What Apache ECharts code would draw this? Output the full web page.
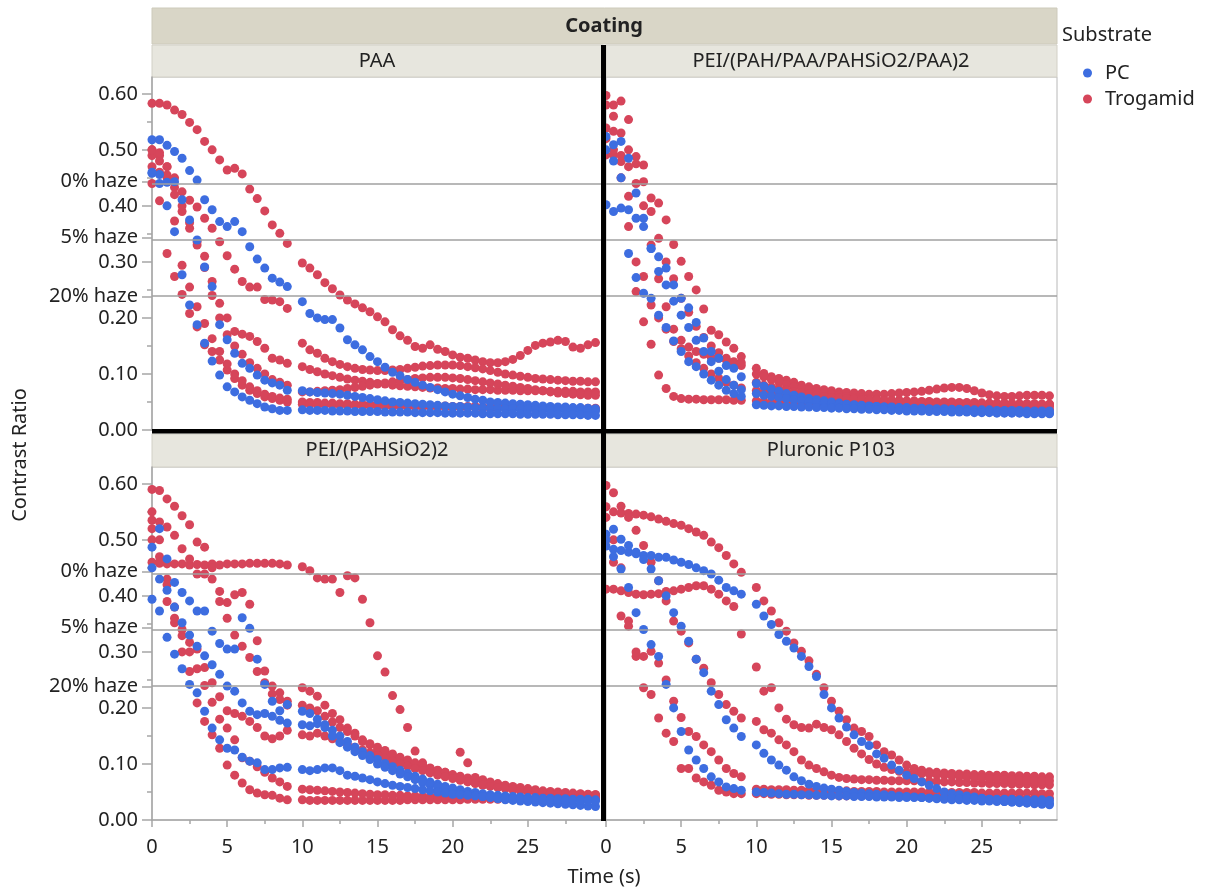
<!DOCTYPE html>
<html>
<head>
<meta charset="utf-8">
<title>Contrast Ratio by Coating</title>
<script src="https://cdn.jsdelivr.net/npm/echarts@6/dist/echarts.min.js"></script>
<style>
  html, body { margin: 0; padding: 0; background: #fff; }
  #chart { width: 1205px; height: 891px; }
</style>
</head>
<body>
<div id="chart"></div>
<script>
// time stamps (s) shared by every run, there is a pause between 9 and 10 s
const times = [0, 0.5, 1, 1.5, 2, 2.5, 3, 3.5, 4, 4.5, 5, 5.5, 6, 6.5, 7, 7.5, 8, 8.5, 9,
  10, 10.5, 11, 11.5, 12, 12.5, 13, 13.5, 14, 14.5, 15, 15.5, 16, 16.5, 17, 17.5, 18, 18.5, 19, 19.5,
  20, 20.5, 21, 21.5, 22, 22.5, 23, 23.5, 24, 24.5, 25, 25.5, 26, 26.5, 27, 27.5, 28, 28.5, 29, 29.5];

// ---- PAA ----
const paaPC1 = [0.518, 0.518, 0.508, 0.497, 0.485, 0.463, 0.446, 0.411, 0.393, 0.372, 0.363, 0.372, 0.354, 0.327, 0.305, 0.289, 0.271, 0.264, 0.256,
  0.229, 0.208, 0.2, 0.197, 0.197, 0.182, 0.161, 0.152, 0.143, 0.131,
  0.122, 0.112, 0.103, 0.097, 0.09, 0.085, 0.08, 0.076, 0.072, 0.068,
  0.064, 0.061, 0.058, 0.055, 0.053, 0.05, 0.049, 0.048, 0.047, 0.046,
  0.045, 0.044, 0.043, 0.042, 0.041, 0.041, 0.04, 0.04, 0.039, 0.038];
const paaPC2 = [0.458, 0.456, 0.442, 0.443, 0.411, 0.375, 0.339, 0.291, 0.256, 0.188, 0.161, 0.137, 0.119, 0.11, 0.098, 0.089, 0.084, 0.08, 0.071,
  0.07, 0.068, 0.067, 0.066, 0.065, 0.064, 0.062, 0.06, 0.058, 0.056,
  0.054, 0.052, 0.05, 0.049, 0.048, 0.047, 0.046, 0.045, 0.044, 0.043,
  0.042, 0.042, 0.041, 0.04, 0.04, 0.039, 0.039, 0.038, 0.038, 0.037,
  0.037, 0.036, 0.036, 0.036, 0.035, 0.035, 0.035, 0.034, 0.034, 0.034];
const paaPC3 = [0.46, 0.44, 0.4, 0.354, 0.277, 0.223, 0.188, 0.155, 0.123, 0.098, 0.077, 0.068, 0.059, 0.053, 0.047, 0.041, 0.038, 0.035, 0.035,
  0.036, 0.035, 0.035, 0.035, 0.034, 0.034, 0.034, 0.033, 0.033, 0.033,
  0.033, 0.032, 0.032, 0.032, 0.032, 0.031, 0.031, 0.031, 0.031, 0.03,
  0.03, 0.03, 0.03, 0.03, 0.029, 0.029, 0.029, 0.029, 0.029, 0.028,
  0.028, 0.028, 0.028, 0.028, 0.027, 0.027, 0.027, 0.027, 0.026, 0.026];
const paaTR1 = [0.583, 0.583, 0.58, 0.571, 0.563, 0.549, 0.536, 0.515, 0.5, 0.482, 0.464, 0.467, 0.457, 0.43, 0.413, 0.391, 0.366, 0.351, 0.333,
  0.298, 0.289, 0.277, 0.263, 0.252, 0.241, 0.232, 0.225, 0.218, 0.211,
  0.202, 0.193, 0.179, 0.168, 0.16, 0.149, 0.146, 0.152, 0.144, 0.14,
  0.134, 0.13, 0.128, 0.125, 0.122, 0.12, 0.12, 0.122, 0.126, 0.133,
  0.142, 0.151, 0.155, 0.157, 0.16, 0.158, 0.148, 0.146, 0.152, 0.156];
const paaTR2 = [0.49, 0.48, 0.47, 0.433, 0.425, 0.41, 0.398, 0.378, 0.36, 0.336, 0.311, 0.287, 0.265, 0.255, 0.255, 0.233, 0.232, 0.229, 0.217,
  0.155, 0.143, 0.137, 0.128, 0.122, 0.117, 0.113, 0.11, 0.108, 0.107,
  0.106, 0.106, 0.107, 0.108, 0.11, 0.112, 0.114, 0.115, 0.116, 0.116,
  0.116, 0.115, 0.113, 0.111, 0.109, 0.106, 0.103, 0.1, 0.098, 0.096,
  0.094, 0.092, 0.091, 0.09, 0.089, 0.088, 0.087, 0.087, 0.086, 0.086];
const paaTR3 = [0.47, 0.46, 0.45, 0.42, 0.39, 0.36, 0.336, 0.31, 0.265, 0.226, 0.2, 0.176, 0.171, 0.167, 0.158, 0.146, 0.128, 0.125, 0.119,
  0.113, 0.108, 0.104, 0.1, 0.097, 0.094, 0.091, 0.089, 0.087, 0.085,
  0.083, 0.082, 0.08, 0.079, 0.078, 0.077, 0.076, 0.075, 0.075, 0.074,
  0.074, 0.073, 0.073, 0.072, 0.072, 0.072, 0.071, 0.071, 0.071, 0.07,
  0.07, 0.07, 0.07, 0.069, 0.069, 0.069, 0.069, 0.068, 0.068, 0.068];
const paaTR4 = [0.44, 0.409, 0.315, 0.274, 0.242, 0.208, 0.184, 0.152, 0.14, 0.125, 0.107, 0.092, 0.08, 0.071, 0.065, 0.059, 0.056, 0.053, 0.05,
  0.05, 0.049, 0.049, 0.048, 0.048, 0.047, 0.047, 0.046, 0.046, 0.046,
  0.045, 0.045, 0.045, 0.044, 0.044, 0.044, 0.043, 0.043, 0.043, 0.043,
  0.042, 0.042, 0.042, 0.042, 0.041, 0.041, 0.041, 0.041, 0.041, 0.04,
  0.04, 0.04, 0.04, 0.04, 0.04, 0.039, 0.039, 0.039, 0.039, 0.039];
const paaTR5 = [0.5, 0.49, 0.455, 0.373, 0.294, 0.255, 0.22, 0.19, 0.163, 0.14, 0.118, 0.1, 0.088, 0.077, 0.07, 0.064, 0.06, 0.057, 0.055,
  0.046, 0.046, 0.045, 0.045, 0.045, 0.044, 0.044, 0.044, 0.043, 0.043,
  0.043, 0.042, 0.042, 0.042, 0.042, 0.041, 0.041, 0.041, 0.041, 0.04,
  0.04, 0.04, 0.04, 0.04, 0.039, 0.039, 0.039, 0.039, 0.039, 0.039,
  0.038, 0.038, 0.038, 0.038, 0.038, 0.038, 0.037, 0.037, 0.037, 0.037];
const paaTR6 = [0.5, 0.495, 0.47, 0.45, 0.4, 0.37, 0.33, 0.29, 0.24, 0.2, 0.17, 0.15, 0.135, 0.12, 0.11, 0.1, 0.09, 0.085, 0.08,
  0.068, 0.068, 0.069, 0.07, 0.071, 0.072, 0.074, 0.076, 0.078, 0.08,
  0.082, 0.084, 0.086, 0.088, 0.09, 0.092, 0.093, 0.094, 0.094, 0.094,
  0.093, 0.092, 0.09, 0.088, 0.086, 0.084, 0.082, 0.08, 0.078, 0.076,
  0.074, 0.072, 0.07, 0.068, 0.066, 0.065, 0.064, 0.063, 0.062, 0.062];

// ---- PEI/(PAH/PAA/PAHSiO2/PAA)2 ----
const peiPC1 = [0.524, 0.509, 0.515, 0.485, 0.423, 0.378, 0.324, 0.309, 0.289, 0.259, 0.235, 0.218, 0.192, 0.164, 0.14, 0.128, 0.115, 0.11, 0.095,
  0.083, 0.078, 0.073, 0.069, 0.065, 0.062, 0.059, 0.056, 0.054, 0.052,
  0.05, 0.048, 0.046, 0.045, 0.044, 0.043, 0.042, 0.041, 0.04, 0.039,
  0.038, 0.037, 0.036, 0.036, 0.035, 0.035, 0.034, 0.034, 0.033, 0.033,
  0.032, 0.032, 0.032, 0.031, 0.031, 0.031, 0.03, 0.03, 0.03, 0.03];
const peiPC2 = [0.402, 0.39, 0.396, 0.393, 0.378, 0.363, 0.324, 0.283, 0.259, 0.23, 0.205, 0.183, 0.16, 0.14, 0.122, 0.105, 0.09, 0.08, 0.072,
  0.065, 0.062, 0.06, 0.058, 0.056, 0.054, 0.052, 0.05, 0.049, 0.048,
  0.047, 0.046, 0.045, 0.044, 0.043, 0.042, 0.042, 0.041, 0.041, 0.04,
  0.04, 0.039, 0.039, 0.038, 0.038, 0.038, 0.037, 0.037, 0.037, 0.036,
  0.036, 0.036, 0.035, 0.035, 0.035, 0.035, 0.034, 0.034, 0.034, 0.034];
const peiPC3 = [0.5, 0.48, 0.45, 0.315, 0.272, 0.244, 0.235, 0.205, 0.183, 0.159, 0.14, 0.122, 0.113, 0.1, 0.089, 0.08, 0.071, 0.065, 0.06,
  0.045, 0.044, 0.043, 0.043, 0.042, 0.042, 0.041, 0.041, 0.04, 0.04,
  0.039, 0.039, 0.038, 0.038, 0.037, 0.037, 0.036, 0.036, 0.035, 0.035,
  0.034, 0.034, 0.034, 0.033, 0.033, 0.033, 0.032, 0.032, 0.032, 0.031,
  0.031, 0.031, 0.03, 0.03, 0.03, 0.03, 0.029, 0.029, 0.029, 0.029];
const peiTR1 = [0.597, 0.58, 0.587, 0.554, 0.488, 0.473, 0.414, 0.405, 0.375, 0.331, 0.301, 0.274, 0.25, 0.216, 0.178, 0.17, 0.157, 0.146, 0.131,
  0.11, 0.101, 0.095, 0.092, 0.089, 0.085, 0.08, 0.077, 0.074, 0.072,
  0.07, 0.068, 0.067, 0.066, 0.065, 0.064, 0.064, 0.064, 0.065, 0.066,
  0.067, 0.068, 0.069, 0.071, 0.073, 0.075, 0.076, 0.076, 0.074, 0.07,
  0.066, 0.063, 0.061, 0.06, 0.06, 0.061, 0.062, 0.062, 0.062, 0.061];
const peiTR2 = [0.58, 0.56, 0.53, 0.5, 0.475, 0.443, 0.39, 0.342, 0.3, 0.27, 0.235, 0.21, 0.185, 0.165, 0.15, 0.138, 0.128, 0.12, 0.115,
  0.1, 0.095, 0.09, 0.085, 0.081, 0.077, 0.074, 0.071, 0.068, 0.066,
  0.064, 0.062, 0.06, 0.058, 0.057, 0.056, 0.055, 0.054, 0.053, 0.053,
  0.052, 0.052, 0.051, 0.051, 0.05, 0.05, 0.05, 0.049, 0.049, 0.049,
  0.048, 0.048, 0.048, 0.048, 0.047, 0.047, 0.047, 0.047, 0.046, 0.046];
const peiTR3 = [0.539, 0.533, 0.479, 0.417, 0.3, 0.274, 0.223, 0.2, 0.18, 0.158, 0.145, 0.132, 0.12, 0.11, 0.1, 0.092, 0.085, 0.08, 0.075,
  0.07, 0.068, 0.066, 0.064, 0.062, 0.06, 0.058, 0.057, 0.056, 0.055,
  0.054, 0.053, 0.052, 0.051, 0.05, 0.05, 0.049, 0.049, 0.048, 0.048,
  0.047, 0.047, 0.046, 0.046, 0.046, 0.045, 0.045, 0.045, 0.044, 0.044,
  0.044, 0.044, 0.043, 0.043, 0.043, 0.043, 0.042, 0.042, 0.042, 0.042];
const peiTR4 = [0.491, 0.491, 0.45, 0.363, 0.247, 0.193, 0.153, 0.098, 0.074, 0.06, 0.056, 0.055, 0.055, 0.054, 0.054, 0.054, 0.054, 0.053, 0.053,
  0.052, 0.051, 0.05, 0.05, 0.049, 0.049, 0.048, 0.048, 0.047, 0.047,
  0.046, 0.046, 0.045, 0.045, 0.044, 0.044, 0.043, 0.043, 0.042, 0.042,
  0.042, 0.041, 0.041, 0.041, 0.04, 0.04, 0.04, 0.04, 0.039, 0.039,
  0.039, 0.039, 0.038, 0.038, 0.038, 0.038, 0.038, 0.037, 0.037, 0.037];
const peiTR5 = [0.52, 0.5, 0.49, 0.47, 0.44, 0.4, 0.33, 0.27, 0.22, 0.18, 0.16, 0.148, 0.14, 0.135, 0.13, 0.128, 0.125, 0.122, 0.12,
  0.085, 0.08, 0.077, 0.074, 0.071, 0.068, 0.066, 0.064, 0.062, 0.06,
  0.058, 0.057, 0.056, 0.055, 0.054, 0.053, 0.053, 0.052, 0.052, 0.051,
  0.051, 0.05, 0.05, 0.05, 0.049, 0.049, 0.049, 0.048, 0.048, 0.048,
  0.048, 0.047, 0.047, 0.047, 0.047, 0.046, 0.046, 0.046, 0.046, 0.046];

// ---- PEI/(PAHSiO2)2 ----
const silPC1 = [0.487, 0.52, 0.466, 0.424, 0.406, 0.391, 0.373, 0.373, 0.337, 0.315, 0.305, 0.305, 0.361, 0.342, 0.287, 0.242, 0.212, 0.195, 0.206,
  0.194, 0.19, 0.18, 0.17, 0.16, 0.15, 0.14, 0.13, 0.122, 0.115,
  0.108, 0.101, 0.095, 0.089, 0.083, 0.078, 0.073, 0.068, 0.064, 0.06,
  0.057, 0.054, 0.051, 0.049, 0.047, 0.045, 0.044, 0.043, 0.042, 0.041,
  0.04, 0.04, 0.039, 0.039, 0.038, 0.038, 0.037, 0.037, 0.037, 0.036];
const silPC2 = [0.45, 0.43, 0.41, 0.38, 0.352, 0.33, 0.31, 0.293, 0.277, 0.26, 0.239, 0.23, 0.209, 0.194, 0.188, 0.19, 0.185, 0.178, 0.173,
  0.17, 0.168, 0.172, 0.165, 0.15, 0.138, 0.13, 0.122, 0.115, 0.108,
  0.1, 0.094, 0.088, 0.082, 0.077, 0.072, 0.067, 0.063, 0.059, 0.055,
  0.052, 0.049, 0.046, 0.044, 0.042, 0.04, 0.038, 0.036, 0.035, 0.034,
  0.033, 0.032, 0.031, 0.03, 0.029, 0.028, 0.027, 0.026, 0.025, 0.024];
const silPC3 = [0.394, 0.373, 0.326, 0.296, 0.27, 0.242, 0.227, 0.194, 0.164, 0.143, 0.128, 0.125, 0.112, 0.105, 0.102, 0.09, 0.09, 0.093, 0.094,
  0.09, 0.088, 0.09, 0.093, 0.093, 0.088, 0.08, 0.078, 0.075, 0.072,
  0.068, 0.065, 0.062, 0.06, 0.058, 0.056, 0.054, 0.052, 0.05, 0.048,
  0.046, 0.045, 0.044, 0.043, 0.042, 0.041, 0.04, 0.039, 0.038, 0.038,
  0.037, 0.037, 0.036, 0.036, 0.036, 0.035, 0.035, 0.035, 0.034, 0.034];
const silTR1 = [0.46, 0.458, 0.457, 0.457, 0.457, 0.455, 0.456, 0.455, 0.457, 0.455, 0.457, 0.457, 0.457, 0.458, 0.458, 0.458, 0.458, 0.457, 0.455,
  0.452, 0.445, 0.432, 0.43, 0.43, 0.406, 0.436, 0.432, 0.394, 0.352,
  0.293, 0.264, 0.222, 0.197, 0.165, 0.123, 0.102, 0.092, 0.085, 0.08,
  0.076, 0.072, 0.069, 0.066, 0.063, 0.061, 0.059, 0.057, 0.055, 0.054,
  0.052, 0.051, 0.05, 0.049, 0.048, 0.047, 0.046, 0.046, 0.045, 0.045];
const silTR2 = [0.59, 0.588, 0.573, 0.56, 0.543, 0.527, 0.496, 0.487, 0.45, 0.408, 0.388, 0.402, 0.406, 0.385, 0.32, 0.266, 0.239, 0.227, 0.212,
  0.236, 0.23, 0.221, 0.205, 0.19, 0.179, 0.164, 0.155, 0.14, 0.134,
  0.125, 0.119, 0.113, 0.108, 0.103, 0.099, 0.095, 0.091, 0.088, 0.085,
  0.081, 0.078, 0.075, 0.072, 0.069, 0.066, 0.063, 0.06, 0.058, 0.056,
  0.054, 0.052, 0.05, 0.049, 0.048, 0.047, 0.046, 0.045, 0.044, 0.044];
const silTR3 = [0.535, 0.532, 0.523, 0.508, 0.484, 0.466, 0.439, 0.439, 0.43, 0.39, 0.36, 0.33, 0.31, 0.29, 0.265, 0.245, 0.225, 0.215, 0.205,
  0.205, 0.2, 0.195, 0.185, 0.175, 0.165, 0.158, 0.15, 0.143, 0.136,
  0.13, 0.124, 0.118, 0.112, 0.107, 0.102, 0.097, 0.093, 0.089, 0.085,
  0.08, 0.121, 0.102, 0.076, 0.072, 0.068, 0.065, 0.062, 0.06, 0.058,
  0.056, 0.054, 0.052, 0.051, 0.05, 0.049, 0.048, 0.047, 0.046, 0.045];
const silTR4 = [0.52, 0.47, 0.39, 0.352, 0.329, 0.317, 0.305, 0.272, 0.245, 0.22, 0.195, 0.19, 0.185, 0.176, 0.165, 0.15, 0.145, 0.15, 0.16,
  0.152, 0.15, 0.155, 0.15, 0.145, 0.14, 0.135, 0.13, 0.125, 0.12,
  0.115, 0.11, 0.105, 0.1, 0.096, 0.092, 0.088, 0.084, 0.08, 0.077,
  0.074, 0.071, 0.068, 0.065, 0.062, 0.06, 0.058, 0.056, 0.054, 0.052,
  0.05, 0.049, 0.048, 0.047, 0.046, 0.045, 0.044, 0.043, 0.043, 0.042];
const silTR5 = [0.55, 0.5, 0.43, 0.36, 0.3, 0.265, 0.209, 0.176, 0.152, 0.128, 0.098, 0.08, 0.066, 0.054, 0.048, 0.045, 0.044, 0.039, 0.036,
  0.036, 0.035, 0.035, 0.035, 0.035, 0.035, 0.035, 0.035, 0.035, 0.035,
  0.035, 0.035, 0.035, 0.035, 0.036, 0.036, 0.036, 0.036, 0.036, 0.036,
  0.036, 0.036, 0.037, 0.037, 0.037, 0.037, 0.037, 0.037, 0.038, 0.038,
  0.038, 0.038, 0.038, 0.038, 0.038, 0.039, 0.039, 0.039, 0.039, 0.039];
const silTR6 = [0.5, 0.46, 0.42, 0.38, 0.34, 0.3, 0.27, 0.24, 0.21, 0.18, 0.164, 0.143, 0.111, 0.105, 0.095, 0.085, 0.075, 0.068, 0.06,
  0.055, 0.054, 0.053, 0.052, 0.051, 0.05, 0.049, 0.048, 0.047, 0.046,
  0.045, 0.045, 0.044, 0.044, 0.043, 0.043, 0.042, 0.042, 0.042, 0.041,
  0.041, 0.041, 0.04, 0.04, 0.04, 0.04, 0.039, 0.039, 0.039, 0.039,
  0.039, 0.038, 0.038, 0.038, 0.038, 0.038, 0.038, 0.037, 0.037, 0.037];

// ---- Pluronic P103 ----
const pluPC1 = [0.489, 0.483, 0.481, 0.478, 0.475, 0.472, 0.472, 0.469, 0.469, 0.464, 0.46, 0.456, 0.45, 0.445, 0.439, 0.428, 0.415, 0.409, 0.403,
  0.385, 0.364, 0.349, 0.331, 0.319, 0.307, 0.292, 0.274, 0.256, 0.224,
  0.2, 0.182, 0.166, 0.152, 0.14, 0.133, 0.118, 0.11, 0.098, 0.089,
  0.08, 0.074, 0.068, 0.062, 0.056, 0.05, 0.047, 0.045, 0.043, 0.041,
  0.039, 0.037, 0.035, 0.033, 0.032, 0.031, 0.03, 0.029, 0.028, 0.027];
const pluPC2 = [0.51, 0.519, 0.501, 0.49, 0.478, 0.465, 0.448, 0.427, 0.4, 0.37, 0.346, 0.319, 0.287, 0.263, 0.23, 0.206, 0.179, 0.164, 0.149,
  0.134, 0.119, 0.107, 0.098, 0.089, 0.077, 0.07, 0.064, 0.06, 0.057,
  0.055, 0.053, 0.051, 0.049, 0.048, 0.047, 0.046, 0.045, 0.044, 0.043,
  0.042, 0.041, 0.04, 0.039, 0.038, 0.037, 0.036, 0.036, 0.035, 0.035,
  0.034, 0.034, 0.033, 0.033, 0.032, 0.032, 0.031, 0.031, 0.03, 0.03];
const pluPC3 = [0.5, 0.47, 0.448, 0.415, 0.37, 0.34, 0.313, 0.292, 0.242, 0.2, 0.158, 0.125, 0.107, 0.092, 0.077, 0.068, 0.059, 0.056, 0.053,
  0.05, 0.049, 0.048, 0.047, 0.046, 0.046, 0.045, 0.045, 0.044, 0.044,
  0.043, 0.043, 0.043, 0.042, 0.042, 0.042, 0.041, 0.041, 0.041, 0.04,
  0.04, 0.04, 0.04, 0.039, 0.039, 0.039, 0.039, 0.038, 0.038, 0.038,
  0.038, 0.037, 0.037, 0.037, 0.037, 0.036, 0.036, 0.036, 0.036, 0.035];
const pluTR1 = [0.559, 0.55, 0.548, 0.547, 0.546, 0.544, 0.541, 0.537, 0.533, 0.529, 0.526, 0.52, 0.514, 0.508, 0.496, 0.486, 0.472, 0.457, 0.442,
  0.415, 0.391, 0.373, 0.352, 0.337, 0.316, 0.301, 0.284, 0.26, 0.236,
  0.212, 0.194, 0.179, 0.164, 0.158, 0.149, 0.134, 0.122, 0.116, 0.107,
  0.098, 0.092, 0.089, 0.086, 0.085, 0.084, 0.083, 0.082, 0.082, 0.081,
  0.081, 0.08, 0.08, 0.08, 0.079, 0.079, 0.078, 0.078, 0.077, 0.077];
const pluTR2 = [0.597, 0.584, 0.56, 0.54, 0.517, 0.49, 0.46, 0.427, 0.391, 0.355, 0.337, 0.316, 0.287, 0.271, 0.245, 0.224, 0.206, 0.194, 0.182,
  0.176, 0.161, 0.155, 0.143, 0.134, 0.122, 0.107, 0.098, 0.092, 0.086,
  0.08, 0.076, 0.074, 0.073, 0.072, 0.072, 0.071, 0.071, 0.07, 0.07,
  0.07, 0.07, 0.069, 0.069, 0.069, 0.068, 0.068, 0.067, 0.067, 0.066,
  0.066, 0.065, 0.065, 0.065, 0.064, 0.064, 0.064, 0.063, 0.063, 0.063];
const pluTR3 = [0.412, 0.412, 0.409, 0.406, 0.403, 0.402, 0.403, 0.404, 0.408, 0.409, 0.412, 0.415, 0.418, 0.418, 0.412, 0.403, 0.391, 0.381, 0.332,
  0.273, 0.23, 0.236, 0.2, 0.18, 0.17, 0.165, 0.164, 0.171, 0.165,
  0.161, 0.152, 0.14, 0.128, 0.118, 0.108, 0.1, 0.094, 0.09, 0.087,
  0.085, 0.084, 0.083, 0.082, 0.081, 0.08, 0.079, 0.078, 0.077, 0.076,
  0.075, 0.074, 0.073, 0.072, 0.072, 0.071, 0.071, 0.07, 0.07, 0.07];
const pluTR4 = [0.54, 0.5, 0.45, 0.355, 0.292, 0.292, 0.301, 0.28, 0.25, 0.212, 0.183, 0.158, 0.149, 0.134, 0.122, 0.107, 0.092, 0.083, 0.077,
  0.055, 0.055, 0.054, 0.054, 0.054, 0.053, 0.053, 0.053, 0.053, 0.052,
  0.052, 0.052, 0.052, 0.051, 0.051, 0.051, 0.051, 0.05, 0.05, 0.05,
  0.05, 0.05, 0.05, 0.049, 0.049, 0.049, 0.049, 0.049, 0.049, 0.049,
  0.048, 0.048, 0.048, 0.048, 0.048, 0.048, 0.048, 0.048, 0.047, 0.047];
const pluTR5 = [0.5, 0.46, 0.364, 0.346, 0.3, 0.236, 0.224, 0.182, 0.155, 0.14, 0.092, 0.092, 0.075, 0.068, 0.062, 0.053, 0.05, 0.047, 0.047,
  0.047, 0.047, 0.046, 0.046, 0.045, 0.045, 0.045, 0.044, 0.044, 0.044,
  0.044, 0.043, 0.043, 0.043, 0.043, 0.043, 0.042, 0.042, 0.042, 0.042,
  0.042, 0.042, 0.041, 0.041, 0.041, 0.041, 0.041, 0.041, 0.04, 0.04,
  0.04, 0.04, 0.04, 0.04, 0.04, 0.039, 0.039, 0.039, 0.039, 0.039];

const coatings = ['PAA', 'PEI/(PAH/PAA/PAHSiO2/PAA)2', 'PEI/(PAHSiO2)2', 'Pluronic P103'];
const pcRuns = [
  [paaPC1, paaPC2, paaPC3],
  [peiPC1, peiPC2, peiPC3],
  [silPC1, silPC2, silPC3],
  [pluPC1, pluPC2, pluPC3]
];
const trogRuns = [
  [paaTR1, paaTR2, paaTR3, paaTR4, paaTR5, paaTR6],
  [peiTR1, peiTR2, peiTR3, peiTR4, peiTR5],
  [silTR1, silTR2, silTR3, silTR4, silTR5, silTR6],
  [pluTR1, pluTR2, pluTR3, pluTR4, pluTR5]
];

const yTicks = [0, 0.1, 0.2, 0.3, 0.4, 0.5, 0.6];
const yMinorTicks = [0.05, 0.15, 0.25, 0.35, 0.45, 0.55];
const xTicks = [0, 5, 10, 15, 20, 25];
const xMinorTicks = [2.5, 7.5, 12.5, 17.5, 22.5, 27.5];
const hazeLevels = [0.443, 0.344, 0.238];
const hazeNames = ['0% haze', '5% haze', '20% haze'];

const BLUE = '#3d6de0';
const RED = '#d6455a';
const AXIS = '#a6a6a6';
const FONT = 'Noto Sans';

// panel boxes: top-left, top-right, bottom-left, bottom-right
const panelBoxes = [
  { left: 152, top: 77, width: 451, height: 353 },
  { left: 606, top: 77, width: 451, height: 353 },
  { left: 152, top: 467, width: 451, height: 353 },
  { left: 606, top: 467, width: 451, height: 353 }
];

const toPoints = runs => {
  const pts = [];
  runs.forEach(run => run.forEach((v, i) => {
    if (v != null && times[i] != null) pts.push([times[i], v]);
  }));
  return pts;
};

const hazeLabel = v => {
  const k = hazeLevels.indexOf(v);
  return k >= 0 ? hazeNames[k] : v.toFixed(2);
};

const xAxes = [];
const yAxes = [];
panelBoxes.forEach((b, i) => {
  const bottomRow = i >= 2;
  const leftCol = i % 2 === 0;
  xAxes.push({
    gridIndex: i, type: 'value', min: 0, max: 30, position: 'bottom',
    show: bottomRow,
    axisLine: { show: true, lineStyle: { color: AXIS, width: 1.5 } },
    axisTick: { show: true, customValues: xTicks, length: 7, lineStyle: { color: AXIS, width: 1.5 } },
    axisLabel: { customValues: xTicks, margin: 17, fontSize: 20, color: '#222', fontFamily: FONT },
    splitLine: { show: false }
  });
  yAxes.push({
    gridIndex: i, type: 'value', min: 0, max: 0.63, position: 'left',
    show: leftCol,
    axisLine: { show: true, lineStyle: { color: AXIS, width: 1.5 } },
    axisTick: { show: true, customValues: yTicks.concat(hazeLevels), length: 10, lineStyle: { color: AXIS, width: 1.5 } },
    axisLabel: {
      customValues: yTicks.concat(hazeLevels), margin: 14, fontSize: 20, fontFamily: FONT,
      formatter: hazeLabel,
      color: v => (hazeLevels.indexOf(v) >= 0 ? '#9b9b9b' : '#222')
    },
    splitLine: { show: false }
  });
});
// minor ticks
[2, 3].forEach(i => xAxes.push({
  gridIndex: i, type: 'value', min: 0, max: 30, position: 'bottom',
  axisLine: { show: false },
  axisTick: { show: true, customValues: xMinorTicks, length: 4, lineStyle: { color: AXIS, width: 1.5 } },
  axisLabel: { show: false }, splitLine: { show: false }
}));
[0, 2].forEach(i => yAxes.push({
  gridIndex: i, type: 'value', min: 0, max: 0.63, position: 'left',
  axisLine: { show: false },
  axisTick: { show: true, customValues: yMinorTicks, length: 5, lineStyle: { color: AXIS, width: 1.5 } },
  axisLabel: { show: false }, splitLine: { show: false }
}));

const series = [];
panelBoxes.forEach((b, i) => {
  series.push({
    type: 'scatter', xAxisIndex: i, yAxisIndex: i, data: [], silent: true, z: 1,
    markLine: {
      silent: true, symbol: ['none', 'none'], animation: false,
      label: { show: false },
      lineStyle: { color: '#a0a0a0', width: 1.5, type: 'solid' },
      data: hazeLevels.map(v => ({ yAxis: v }))
    }
  });
  series.push({
    name: 'Trogamid', type: 'scatter', xAxisIndex: i, yAxisIndex: i, z: 3,
    symbolSize: 9, itemStyle: { color: RED, opacity: 1 },
    data: toPoints(trogRuns[i])
  });
  series.push({
    name: 'PC', type: 'scatter', xAxisIndex: i, yAxisIndex: i, z: 4,
    symbolSize: 9, itemStyle: { color: BLUE, opacity: 1 },
    data: toPoints(pcRuns[i])
  });
});

// strips, titles and dividers
const graphic = [
  { type: 'rect', shape: { x: 152, y: 8, width: 905, height: 36 }, style: { fill: '#d9d6c7', stroke: '#cdcabb', lineWidth: 1 } },
  { type: 'text', x: 604, y: 26, style: { text: 'Coating', font: 'bold 20px "Noto Sans"', fill: '#222', align: 'center', verticalAlign: 'middle' } }
];
[[152, 45, 32], [606, 45, 32], [152, 434, 33], [606, 434, 33]].forEach((s, i) => {
  graphic.push({ type: 'rect', shape: { x: s[0], y: s[1], width: 451, height: s[2] }, style: { fill: '#e7e6de', stroke: '#d2d0c6', lineWidth: 1 } });
  graphic.push({ type: 'text', x: s[0] + 225, y: s[1] + s[2] / 2, style: { text: coatings[i], font: '20px "Noto Sans"', fill: '#222', align: 'center', verticalAlign: 'middle' } });
});
graphic.push({ type: 'rect', z: 100, shape: { x: 601, y: 45, width: 5, height: 776 }, style: { fill: '#000' } });
graphic.push({ type: 'rect', z: 100, shape: { x: 152, y: 429, width: 905, height: 4.5 }, style: { fill: '#000' } });
graphic.push({ type: 'text', x: 20, y: 455, rotation: Math.PI / 2, style: { text: 'Contrast Ratio', font: '20px "Noto Sans"', fill: '#222', align: 'center', verticalAlign: 'middle' } });
graphic.push({ type: 'text', x: 604, y: 877, style: { text: 'Time (s)', font: '20px "Noto Sans"', fill: '#222', align: 'center', verticalAlign: 'middle' } });
graphic.push({ type: 'text', x: 1062, y: 35, style: { text: 'Substrate', font: '20px "Noto Sans"', fill: '#222', align: 'left', verticalAlign: 'middle' } });

const chart = echarts.init(document.getElementById('chart'));
chart.setOption({
  animation: false,
  textStyle: { fontFamily: FONT },
  grid: panelBoxes.map(b => Object.assign({ show: true, borderColor: '#b8b8b8', borderWidth: 1, backgroundColor: 'transparent' }, b)),
  xAxis: xAxes,
  yAxis: yAxes,
  legend: {
    data: ['PC', 'Trogamid'], orient: 'vertical', left: 1078, top: 58,
    icon: 'circle', itemWidth: 9, itemHeight: 9, itemGap: 6, selectedMode: false,
    textStyle: { fontSize: 20, color: '#222', fontFamily: FONT, padding: [0, 0, 0, 8] }
  },
  graphic: graphic,
  series: series
});
</script>
</body>
</html>
